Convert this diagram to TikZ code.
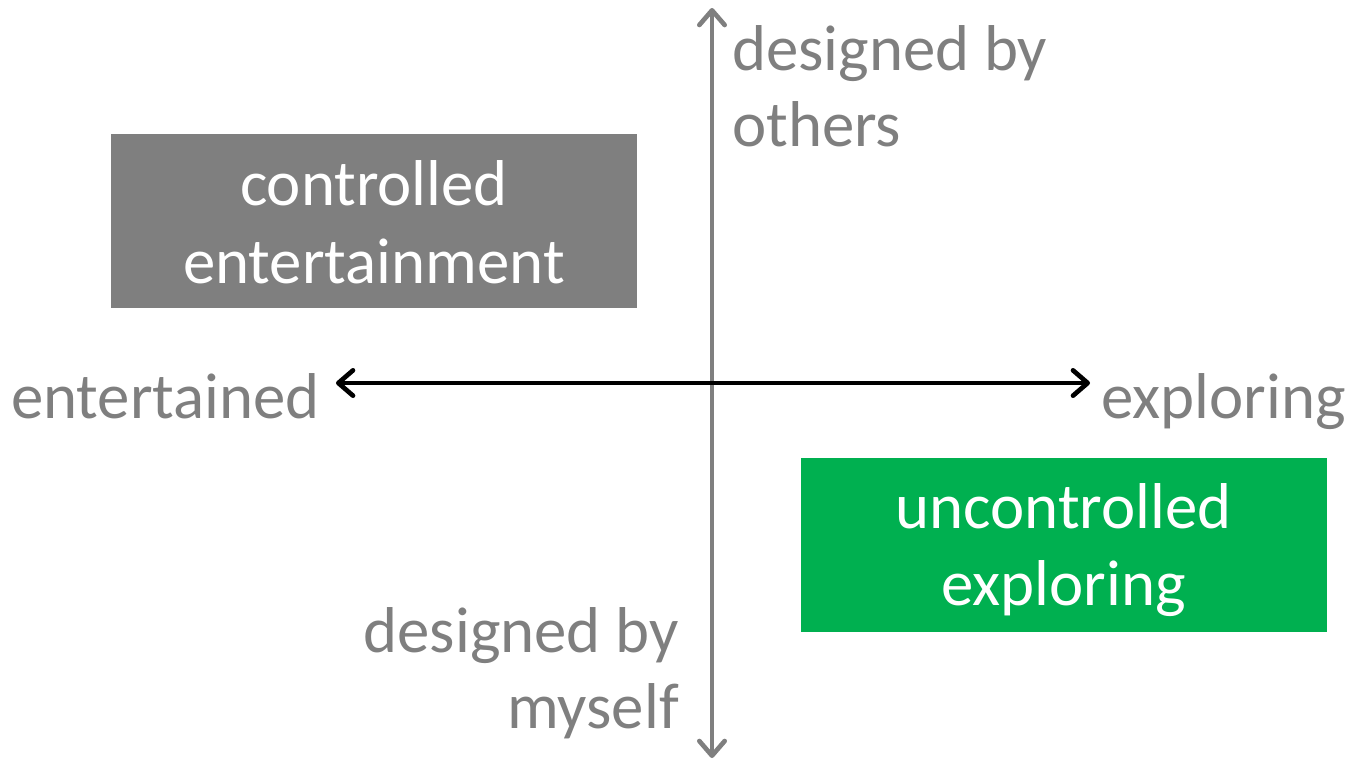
\documentclass[tikz,border=0pt]{standalone}
\usepackage{fontspec}
\setmainfont{Carlito}
\usetikzlibrary{arrows.meta}
\definecolor{axisgray}{HTML}{7F7F7F}
\definecolor{boxgreen}{HTML}{00B050}
\tikzset{
  lbl/.style={text=axisgray, inner sep=0pt, font=\fontsize{48.6}{57.75}\selectfont},
  boxtxt/.style={text=white, inner sep=0pt, font=\fontsize{48.6}{57.75}\selectfont},
  quad/.style={draw=none, inner sep=0pt, minimum width=394.5pt, minimum height=130.5pt},
  axisline/.style={line width=3.5pt, line cap=round,
    {Straight Barb[length=11pt,width=19pt,line cap=round,line join=round]}-{Straight Barb[length=11pt,width=19pt,line cap=round,line join=round]}},
}
\begin{document}
\begin{tikzpicture}[x=0.75pt,y=-0.75pt]
\useasboundingbox (0,0) rectangle (1351,761);
% boxes
\node[quad, fill=axisgray] (ctrl) at (374,221) {};
\node[quad, fill=boxgreen] (unctrl) at (1063.5,545) {};
\node[boxtxt, anchor=base] (c1) at (374,205) {controlled};
\node[boxtxt, anchor=base] (c2) at (374,283) {entertainment};
\node[boxtxt, anchor=base] (u1) at (1063.5,528) {uncontrolled};
\node[boxtxt, anchor=base] (u2) at (1063.5,605) {exploring};
% axis endpoints
\coordinate (top) at (712,8);
\coordinate (bot) at (712,758);
\coordinate (lft) at (336,383);
\coordinate (rgt) at (1090,383);
\draw[axisgray, axisline] (bot) -- (top);
\draw[black, axisline] (lft) -- (rgt);
% labels
\node[lbl, anchor=base west] (o1) at (732,70) {designed by};
\node[lbl, anchor=base west] (o2) at (732,146) {others};
\node[lbl, anchor=base east] (m1) at (679,652) {designed by};
\node[lbl, anchor=base east] (m2) at (679,728) {myself};
\node[lbl, anchor=base east] (ent) at (320,418) {entertained};
\node[lbl, anchor=base west] (exp) at (1101,418) {exploring};
\end{tikzpicture}
\end{document}
